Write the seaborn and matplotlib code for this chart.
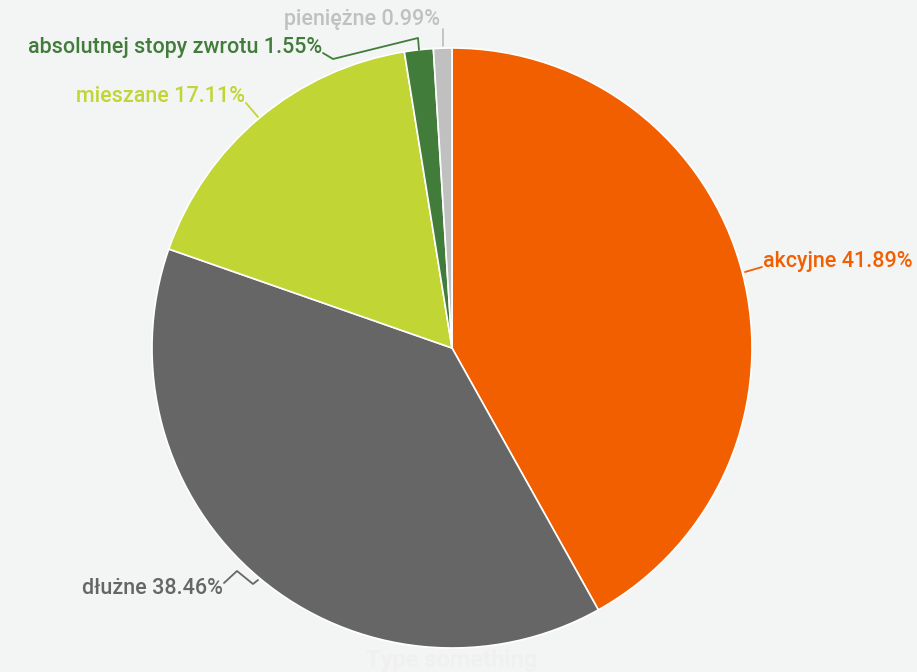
import matplotlib
matplotlib.use("Agg")
import matplotlib.pyplot as plt
import seaborn as sns

categories = ["akcyjne", "dłużne", "mieszane", "absolutnej stopy zwrotu", "pieniężne"]
values = [41.89, 38.46, 17.11, 1.55, 0.99]
colors = ["#f25f00", "#666666", "#c1d534", "#427c3b", "#c0c0c0"]

sns.set_theme(style="white")
plt.rcParams["font.family"] = ["Roboto", "DejaVu Sans"]

W, H = 917, 672
fig = plt.figure(figsize=(W / 100, H / 100), dpi=100)
fig.patch.set_facecolor("#f3f4f4")

ax = fig.add_axes([152 / W, 24 / H, 600 / W, 600 / H])
ax.set_facecolor("none")
ax.pie(values, colors=colors, startangle=90, counterclock=False, radius=1,
       wedgeprops=dict(edgecolor="white", linewidth=1.2))
ax.set_xlim(-1, 1)
ax.set_ylim(-1, 1)
ax.set_aspect("equal")
ax.axis("off")

def P(x, y):
    return (x / W, 1 - y / H)

labels = [f"{c} {v:.2f}%" for c, v in zip(categories, values)]
label_pos = [(763, 262, "left"), (223, 588, "right"), (245, 97, "right"),
             (322, 47, "right"), (440, 19, "right")]
leaders = [
    [(745, 272), (762, 267)],
    [(224, 583), (237, 571), (253, 584), (258, 580)],
    [(246, 103), (258, 117)],
    [(323, 53), (333, 59), (418, 38), (419, 50)],
    [(443, 29), (443, 46)],
]
for lab, (x, y, ha), pts, col in zip(labels, label_pos, leaders, colors):
    fig.text(*P(x, y), lab, ha=ha, va="center", fontsize=15.5,
             fontweight="medium", color=col)
    xs = [p[0] / W for p in pts]
    ys = [1 - p[1] / H for p in pts]
    fig.add_artist(plt.Line2D(xs, ys, transform=fig.transFigure, color=col, lw=1.3))

fig.text(*P(452, 660), "Type something", ha="center", va="center",
         fontsize=17, fontweight="bold", color="#f0f0f0")

fig.savefig("out.png", dpi=100, facecolor=fig.get_facecolor())
